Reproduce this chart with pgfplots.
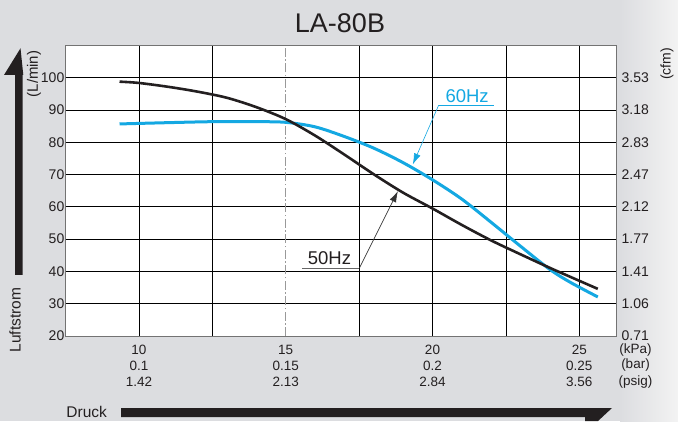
\documentclass[border=0pt]{standalone}
\usepackage{pgfplots}
\pgfplotsset{compat=1.18}
\usetikzlibrary{arrows.meta}
\usepackage{fontspec}
\setmainfont{Liberation Sans}
\definecolor{bg}{RGB}{220,221,224}
\definecolor{bgr}{RGB}{243,243,243}
\definecolor{cblue}{RGB}{20,168,226}
\definecolor{ink}{RGB}{35,31,32}
\begin{document}
\begin{tikzpicture}[x=1pt,y=1pt]
\path[use as bounding box] (0,0) rectangle (678,421);
\clip (0,0) rectangle (678,421);
\fill[bg] (0,0) rectangle (621,421);
\shade[left color=bg, right color=bgr] (620,0) rectangle (678,421);
% title
\node[font=\fontsize{27}{30}\selectfont, text=ink] at (340,398) {LA-80B};
% left arrow
\fill[ink] (15,146) -- (15,346) -- (4,346) -- (20.5,372.7) -- (23.3,346) -- (22.7,346) -- (22.7,146) -- cycle;
\node[rotate=90, font=\fontsize{15.5}{18}\selectfont, text=ink] at (15,101) {Luftstrom};
\node[rotate=90, font=\fontsize{15}{18}\selectfont, text=ink] at (34,347) {(L/min)};
\node[rotate=90, font=\fontsize{14}{16}\selectfont, text=ink] at (667,357) {(cfm)};
% bottom arrow
\fill[ink] (121,13) -- (612,13) -- (598,0) -- (585,0) -- (585,4) -- (121,4) -- cycle;
\node[font=\fontsize{15.5}{18}\selectfont, text=ink] at (86.7,9.3) {Druck};
% unit rows
\node[font=\fontsize{13.5}{16}\selectfont, text=ink] at (635.5,71) {(kPa)};
\node[font=\fontsize{13.5}{16}\selectfont, text=ink] at (635.5,55.5) {(bar)};
\node[font=\fontsize{13.5}{16}\selectfont, text=ink] at (635.5,39.3) {(psig)};

\begin{axis}[
  at={(65.5pt,85pt)}, anchor=south west, scale only axis,
  width=550.5pt, height=290.5pt,
  xmin=7.5, xmax=26.25, ymin=20, ymax=110,
  axis background/.style={fill=white},
  axis line style={draw=black!55, line width=0.8pt},
  xtick={10,15,20,25},
  xticklabels={{10\\0.1\\1.42},{15\\0.15\\2.13},{20\\0.2\\2.84},{25\\0.25\\3.56}},
  ytick={20,30,40,50,60,70,80,90,100},
  yticklabels={20,30,40,50,60,70,80,90,100},
  major tick length=0pt,
  tick style={draw=none},
  xticklabel style={align=center, font=\fontsize{13.5}{16}\selectfont, text=ink, inner sep=0pt, yshift=-9pt},
  yticklabel style={font=\fontsize{14}{16}\selectfont, text=ink, inner sep=1pt},
]
\pgfplotsinvokeforeach{30,40,50,60,70,80,90,100}{
  \draw[black, line width=0.8pt] (axis cs:7.5,#1) -- (axis cs:26.25,#1);
}
\pgfplotsinvokeforeach{10,12.5,17.5,20,22.5,25}{
  \draw[black, line width=0.8pt] (axis cs:#1,20) -- (axis cs:#1,110);
}
\draw[black!40, line width=0.9pt, dash pattern=on 9pt off 2.5pt on 1.5pt off 2.5pt] (axis cs:15,20) -- (axis cs:15,110);

\addplot[cblue, line width=3pt, smooth, tension=0.5] coordinates {
(9.34,85.7) (11,86.1) (12.5,86.4) (14,86.4) (15,86.2) (16,84.8) (17,81.8) (18,78.2)
(19,73.7) (20,68.4) (21,62.4) (22,55.2) (23,47.8) (24,40.6) (24.7,36.6) (25.63,32.1)
};
\addplot[ink, line width=2.6pt, smooth, tension=0.5] coordinates {
(9.34,98.8) (10,98.4) (11,97.2) (12,95.7) (13,93.8) (14,90.9) (15,87.2)
(16,82.1) (17,76.2) (18,70.1) (19,64.4) (20,59.5) (21,54.4) (22,49.6)
(23,45.3) (24,41.1) (24.7,38.3) (25.63,34.6)
};
% annotations
\node[font=\fontsize{18.5}{20}\selectfont, text=cblue] at (axis cs:21.18,94.4) {60Hz};
\draw[cblue, line width=0.6pt] (axis cs:22.08,91.51) -- (axis cs:20.21,91.51);
\draw[cblue, line width=0.6pt, -{Latex[length=11pt,width=7pt]}] (axis cs:20.21,91.51) -- (axis cs:19.33,73.17);
\node[font=\fontsize{18.5}{20}\selectfont, text=ink] at (axis cs:16.49,44.25) {50Hz};
\draw[black!60, line width=0.6pt] (axis cs:15.57,41.04) -- (axis cs:17.51,41.04);
\draw[black!80, line width=0.6pt, -{Latex[length=11pt,width=7pt]}] (axis cs:17.51,41.04) -- (axis cs:18.82,64.86);
\end{axis}

\begin{axis}[
  at={(65.5pt,85pt)}, anchor=south west, scale only axis,
  width=550.5pt, height=290.5pt,
  xmin=7.5, xmax=26.25, ymin=20, ymax=110,
  hide x axis, axis y line*=right, axis line style={draw=none},
  ytick={20,30,40,50,60,70,80,90,100},
  yticklabels={0.71,1.06,1.41,1.77,2.12,2.47,2.83,3.18,3.53},
  major tick length=0pt, tick style={draw=none},
  yticklabel style={font=\fontsize{14}{16}\selectfont, text=ink, inner sep=1pt, xshift=4.5pt},
]
\addplot[draw=none] coordinates {(10,50)};
\end{axis}
\end{tikzpicture}
\end{document}
